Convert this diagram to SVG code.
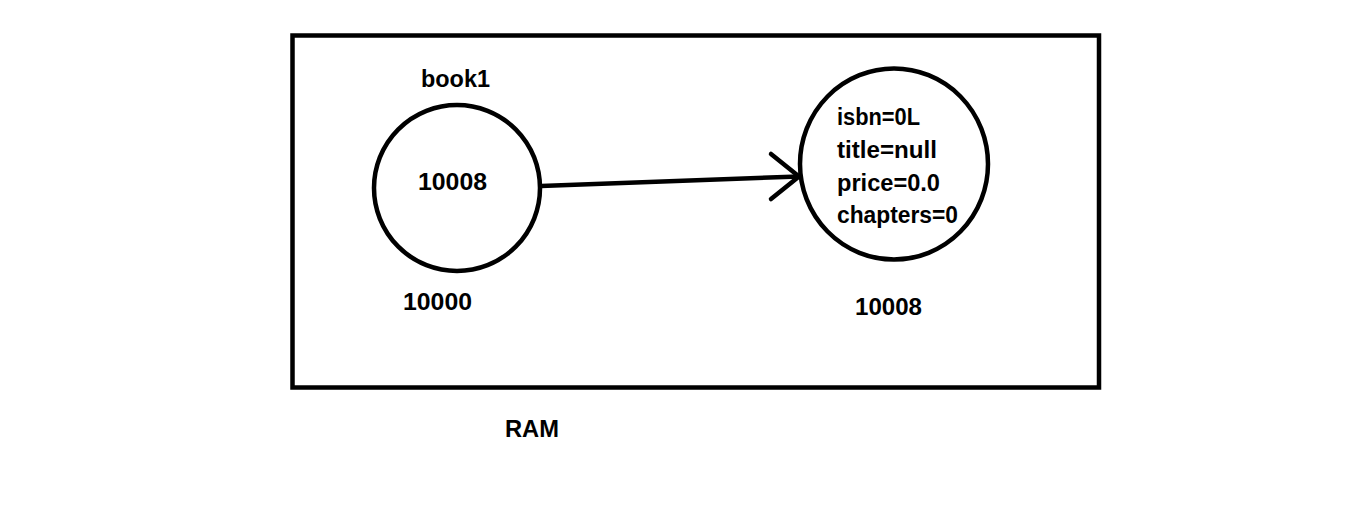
<svg xmlns="http://www.w3.org/2000/svg" width="1346" height="529" viewBox="0 0 1346 529">
<style>
.t{font-family:"Liberation Sans",Arial,sans-serif;font-weight:bold;font-size:23px;fill:#000}
.s{fill:none;stroke:#000;stroke-width:4.5}
</style>
<rect width="1346" height="529" fill="#fff"/>
<g id="ram">
<rect class="s" x="292.5" y="35.5" width="806.5" height="352"/>
<text class="t" x="505" y="437" textLength="54" lengthAdjust="spacingAndGlyphs">RAM</text>
</g>
<g id="book1">
<circle class="s" cx="457" cy="188" r="83"/>
<text class="t" x="421" y="87" textLength="69" lengthAdjust="spacingAndGlyphs">book1</text>
<text class="t" x="418" y="190" textLength="69" lengthAdjust="spacingAndGlyphs">10008</text>
<text class="t" x="403" y="310" textLength="69" lengthAdjust="spacingAndGlyphs">10000</text>
</g>
<g id="object">
<ellipse class="s" cx="894" cy="164" rx="94" ry="95.5"/>
<text class="t" x="837" y="125" textLength="83" lengthAdjust="spacingAndGlyphs">isbn=0L</text>
<text class="t" x="837" y="158" textLength="100" lengthAdjust="spacingAndGlyphs">title=null</text>
<text class="t" x="837" y="191" textLength="103" lengthAdjust="spacingAndGlyphs">price=0.0</text>
<text class="t" x="837" y="223" textLength="121" lengthAdjust="spacingAndGlyphs">chapters=0</text>
<text class="t" x="855" y="315" textLength="67" lengthAdjust="spacingAndGlyphs">10008</text>
</g>
<g id="connectors">
<line class="s" x1="541" y1="186" x2="799" y2="176.5"/>
<polyline class="s" points="771,154 799,176.5 771,199" stroke-linecap="round" stroke-linejoin="round"/>
</g>
</svg>
